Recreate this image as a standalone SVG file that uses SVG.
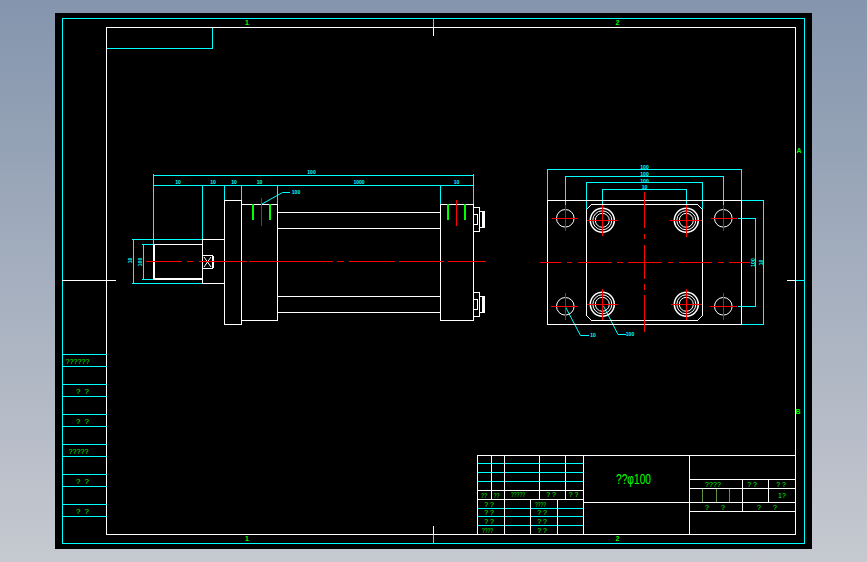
<svg xmlns="http://www.w3.org/2000/svg" width="867" height="562" viewBox="0 0 867 562">
<style>
line,polyline,circle{fill:none;stroke-width:1}
.c line,.c polyline,.c rect{stroke:#0ff;fill:none}
.w line,.w rect,.w path,.w circle,.w polyline{stroke:#fff;fill:none}
.r line{stroke:#f00}
.g line{stroke:#0f0;stroke-width:2}
.ol line{stroke:#5f8f3f}
text{font-family:"Liberation Sans",Arial,sans-serif}
.t{fill:#0f0;font-size:8px;text-anchor:middle}
.s{fill:#0f0;font-size:7px;text-anchor:middle}
.d{fill:#0ff;font-size:5px;font-weight:bold;text-anchor:middle}
.b{shape-rendering:crispEdges}
</style>
<defs><linearGradient id="bg" x1="0" y1="0" x2="0" y2="1"><stop offset="0" stop-color="#8495ad"/><stop offset="1" stop-color="#c6c9d0"/></linearGradient></defs>
<rect width="867" height="562" fill="url(#bg)"/>
<rect x="55" y="13" width="757" height="536" fill="#000"/>

<g id="frame" class="b">
<g class="c">
<rect x="62.5" y="18.5" width="742" height="525"/>
<line x1="433.5" y1="18" x2="433.5" y2="27"/>
<line x1="433.5" y1="534" x2="433.5" y2="544"/>
<line x1="795" y1="280.5" x2="804" y2="280.5"/>
<polyline points="107,48.5 212.5,48.5 212.5,27"/>
</g>
<g class="w">
<rect x="106.5" y="27.5" width="689" height="507"/>
<line x1="433.5" y1="27" x2="433.5" y2="36"/>
<line x1="433.5" y1="526" x2="433.5" y2="534"/>
<line x1="62" y1="280.5" x2="116" y2="280.5"/>
<line x1="787" y1="280.5" x2="795" y2="280.5"/>
</g>
<text class="s" x="247" y="25" font-weight="bold">1</text>
<text class="s" x="617.5" y="25" font-weight="bold">2</text>
<text class="s" x="247" y="541" font-weight="bold">1</text>
<text class="s" x="617.5" y="541" font-weight="bold">2</text>
<text class="s" x="799" y="153" font-weight="bold">A</text>
<text class="s" x="798" y="414" font-weight="bold">B</text>
</g>

<g id="side-column" class="b">
<g class="c">
<line x1="62" y1="354.5" x2="107" y2="354.5"/><line x1="62" y1="366.5" x2="107" y2="366.5"/>
<line x1="62" y1="384.5" x2="107" y2="384.5"/><line x1="62" y1="396.5" x2="107" y2="396.5"/>
<line x1="62" y1="414.5" x2="107" y2="414.5"/><line x1="62" y1="426.5" x2="107" y2="426.5"/>
<line x1="62" y1="444.5" x2="107" y2="444.5"/><line x1="62" y1="456.5" x2="107" y2="456.5"/>
<line x1="62" y1="474.5" x2="107" y2="474.5"/><line x1="62" y1="486.5" x2="107" y2="486.5"/>
<line x1="62" y1="504.5" x2="107" y2="504.5"/><line x1="62" y1="516.5" x2="107" y2="516.5"/>
</g>
<text class="t" x="77.5" y="364" textLength="24" lengthAdjust="spacingAndGlyphs">??????</text>
<text class="t" x="82.5" y="394" textLength="13" lengthAdjust="spacing">? ?</text>
<text class="t" x="82.5" y="424" textLength="13" lengthAdjust="spacing">? ?</text>
<text class="t" x="78.5" y="454" textLength="20" lengthAdjust="spacingAndGlyphs">?????</text>
<text class="t" x="82.5" y="484" textLength="13" lengthAdjust="spacing">? ?</text>
<text class="t" x="82.5" y="514" textLength="13" lengthAdjust="spacing">? ?</text>
</g>

<g id="title-block" class="b">
<g class="c">
<line x1="478" y1="463.5" x2="583" y2="463.5"/><line x1="478" y1="472.5" x2="583" y2="472.5"/><line x1="478" y1="481.5" x2="583" y2="481.5"/>
<line x1="478" y1="508.5" x2="583" y2="508.5"/><line x1="478" y1="516.5" x2="583" y2="516.5"/><line x1="478" y1="525.5" x2="583" y2="525.5"/>
</g>
<g class="w">
<line x1="477.5" y1="455.5" x2="795" y2="455.5"/>
<line x1="477.5" y1="455" x2="477.5" y2="534"/>
<line x1="491.5" y1="455" x2="491.5" y2="499"/>
<line x1="504.5" y1="455" x2="504.5" y2="534"/>
<line x1="539.5" y1="455" x2="539.5" y2="499"/>
<line x1="565.5" y1="455" x2="565.5" y2="499"/>
<line x1="583.5" y1="455" x2="583.5" y2="534"/>
<line x1="530.5" y1="499" x2="530.5" y2="534"/>
<line x1="557.5" y1="499" x2="557.5" y2="534"/>
<line x1="478" y1="490.5" x2="583" y2="490.5"/>
<line x1="478" y1="499.5" x2="583" y2="499.5"/>
<line x1="583" y1="502.5" x2="795" y2="502.5"/>
<line x1="689.5" y1="455" x2="689.5" y2="534"/>
<line x1="689" y1="479.5" x2="795" y2="479.5"/>
<line x1="689" y1="488.5" x2="795" y2="488.5"/>
<line x1="689" y1="511.5" x2="795" y2="511.5"/>
<line x1="742.5" y1="479" x2="742.5" y2="511"/>
<line x1="768.5" y1="479" x2="768.5" y2="502"/>
</g>
<g class="ol">
<line x1="702.5" y1="489" x2="702.5" y2="502"/><line x1="716.5" y1="489" x2="716.5" y2="502"/><line x1="729.5" y1="489" x2="729.5" y2="502"/>
</g>
<text class="s" x="484" y="498" textLength="6" lengthAdjust="spacingAndGlyphs">??</text>
<text class="s" x="496.5" y="498" textLength="6" lengthAdjust="spacingAndGlyphs">??</text>
<text class="s" x="518" y="497" textLength="14" lengthAdjust="spacingAndGlyphs">?????</text>
<text class="s" x="551" y="497">? ?</text>
<text class="s" x="573.5" y="497">? ?</text>
<text class="s" x="489" y="506.5">? ?</text>
<text class="s" x="489" y="515">? ?</text>
<text class="s" x="489" y="524">? ?</text>
<text class="s" x="487.5" y="533" textLength="11" lengthAdjust="spacingAndGlyphs">????</text>
<text class="s" x="540.5" y="506.5" textLength="11" lengthAdjust="spacingAndGlyphs">????</text>
<text class="s" x="542" y="515">? ?</text>
<text class="s" x="542" y="524">? ?</text>
<text class="s" x="542" y="533">? ?</text>
<text class="s" x="713" y="487" textLength="16" lengthAdjust="spacing">????</text>
<text class="s" x="752" y="487">? ?</text>
<text class="s" x="781" y="487">? ?</text>
<text class="s" x="782" y="498">1?</text>
<text class="s" x="707" y="510">?</text>
<text class="s" x="723" y="510">?</text>
<text class="s" x="759" y="510">?</text>
<text class="s" x="775" y="510">?</text>
<text class="t" x="633.5" y="484" style="font-size:14px" textLength="35" lengthAdjust="spacingAndGlyphs">??φ100</text>
</g>

<g id="front-view">
<g class="b c">
<line x1="153.5" y1="175.5" x2="473.5" y2="175.5"/>
<line x1="153.5" y1="185.5" x2="473.5" y2="185.5"/>
<line x1="153.5" y1="174" x2="153.5" y2="244"/>
<line x1="202.5" y1="185" x2="202.5" y2="239"/>
<line x1="224.5" y1="185" x2="224.5" y2="200"/>
<line x1="241.5" y1="185" x2="241.5" y2="204"/>
<line x1="277.5" y1="185" x2="277.5" y2="204"/>
<line x1="440.5" y1="185" x2="440.5" y2="204"/>
<line x1="473.5" y1="174" x2="473.5" y2="204"/>
<line x1="132" y1="239.5" x2="202" y2="239.5"/>
<line x1="132" y1="283.5" x2="202" y2="283.5"/>
<line x1="133.5" y1="239" x2="133.5" y2="284"/>
<line x1="142" y1="244.5" x2="153" y2="244.5"/>
<line x1="142" y1="279.5" x2="153" y2="279.5"/>
<line x1="143.5" y1="244" x2="143.5" y2="280"/>
</g>
<polyline points="262,204 282.5,192.5 290,192.5" fill="none" stroke="#0ff"/>
<g class="w b">
<rect x="153.5" y="244.5" width="49" height="35"/>
<line x1="154.5" y1="245" x2="154.5" y2="279"/>
<line x1="154" y1="278.5" x2="202" y2="278.5"/>
<line x1="202" y1="239.5" x2="224" y2="239.5"/>
<line x1="202" y1="283.5" x2="224" y2="283.5"/>
<line x1="202.5" y1="239" x2="202.5" y2="284"/>
<rect x="202.5" y="255.5" width="10" height="13"/>
<line x1="212.5" y1="256" x2="212.5" y2="268" style="stroke-width:2"/>
<rect x="224.5" y="200.5" width="17" height="124"/>
<rect x="241.5" y="204.5" width="36" height="116"/>
<rect x="440.5" y="204.5" width="33" height="116"/>
<line x1="277" y1="212.5" x2="440" y2="212.5"/>
<line x1="277" y1="228.5" x2="440" y2="228.5"/>
<line x1="277" y1="296.5" x2="440" y2="296.5"/>
<line x1="277" y1="312.5" x2="440" y2="312.5"/>
<path d="M474 207.5H479.5V231.5H474M474 214.5H477V224.5H474M479.5 211.5H484.5V227.5H479.5M482.5 212V227M483.5 212V227"/>
<path d="M474 292.5H479.5V316.5H474M474 299.5H477V309.5H474M479.5 296.5H484.5V312.5H479.5M482.5 297V312M483.5 297V312"/>
</g>
<g class="w"><line x1="204" y1="257" x2="211" y2="267"/><line x1="211" y1="257" x2="204" y2="267"/></g>
<g class="g b">
<line x1="253" y1="204" x2="253" y2="220"/><line x1="270" y1="204" x2="270" y2="220"/>
<line x1="448" y1="204" x2="448" y2="220"/><line x1="465" y1="204" x2="465" y2="220"/>
</g>
<g class="r b">
<line x1="261.5" y1="198" x2="261.5" y2="226"/><line x1="456.5" y1="200" x2="456.5" y2="226"/>
<line x1="146" y1="261.5" x2="182" y2="261.5"/><line x1="187" y1="261.5" x2="193" y2="261.5"/>
<line x1="199" y1="261.5" x2="247" y2="261.5"/><line x1="249" y1="261.5" x2="333" y2="261.5"/>
<line x1="337" y1="261.5" x2="344" y2="261.5"/><line x1="349" y1="261.5" x2="395" y2="261.5"/>
<line x1="399" y1="261.5" x2="444" y2="261.5"/><line x1="448" y1="261.5" x2="486" y2="261.5"/>
</g>
<text class="d" x="311.5" y="174">100</text>
<text class="d" x="178" y="184">10</text>
<text class="d" x="213" y="184">10</text>
<text class="d" x="234" y="184">10</text>
<text class="d" x="259.5" y="184">10</text>
<text class="d" x="359" y="184">1000</text>
<text class="d" x="456.5" y="184">10</text>
<text class="d" x="296" y="194">100</text>
<text class="d" transform="translate(132,260.5) rotate(-90)">10</text>
<text class="d" transform="translate(142,262) rotate(-90)">100</text>
</g>

<g id="end-view">
<g class="b c">
<polyline points="547.5,200 547.5,169.5 741.5,169.5 741.5,200"/>
<polyline points="565.5,205 565.5,176.5 723.5,176.5 723.5,205"/>
<polyline points="586.5,210 586.5,182.5 702.5,182.5 702.5,210"/>
<polyline points="602.5,210 602.5,189.5 686.5,189.5 686.5,210"/>
<polyline points="741,200.5 763.5,200.5 763.5,324.5 741,324.5"/>
<polyline points="738,218.5 755.5,218.5 755.5,306.5 738,306.5"/>
</g>
<polyline points="565.5,307 580.5,335.5 589,335.5" fill="none" stroke="#0ff"/>
<polyline points="603.5,306 618,334.5 626,334.5" fill="none" stroke="#0ff"/>
<g class="w">
<rect class="b" x="547.5" y="200.5" width="194" height="124"/>
<path class="b" d="M591.5 204.5H697.5L702.5 209.5V315.5L697.5 320.5H591.5L586.5 315.5V209.5Z"/>
<circle cx="565.3" cy="218.3" r="8.8"/><circle cx="723.3" cy="218.3" r="8.8"/>
<circle cx="565.3" cy="306.3" r="8.8"/><circle cx="723.3" cy="306.3" r="8.8"/>
<circle cx="602.3" cy="220.3" r="12" style="stroke-width:1.5"/><circle cx="602.3" cy="220.3" r="9.5"/><circle cx="602.3" cy="220.3" r="7"/>
<circle cx="686.3" cy="220.3" r="12" style="stroke-width:1.5"/><circle cx="686.3" cy="220.3" r="9.5"/><circle cx="686.3" cy="220.3" r="7"/>
<circle cx="602.3" cy="304.3" r="12" style="stroke-width:1.5"/><circle cx="602.3" cy="304.3" r="9.5"/><circle cx="602.3" cy="304.3" r="7"/>
<circle cx="686.3" cy="304.3" r="12" style="stroke-width:1.5"/><circle cx="686.3" cy="304.3" r="9.5"/><circle cx="686.3" cy="304.3" r="7"/>
</g>
<g class="r b">
<line x1="552" y1="218.5" x2="578" y2="218.5"/><line x1="565.5" y1="205" x2="565.5" y2="231"/>
<line x1="711" y1="218.5" x2="737" y2="218.5"/><line x1="723.5" y1="205" x2="723.5" y2="231"/>
<line x1="551" y1="306.5" x2="578" y2="306.5"/><line x1="565.5" y1="293" x2="565.5" y2="320"/>
<line x1="710" y1="306.5" x2="737" y2="306.5"/><line x1="723.5" y1="293" x2="723.5" y2="320"/>
<line x1="587" y1="220.5" x2="618" y2="220.5"/><line x1="602.5" y1="205" x2="602.5" y2="236"/>
<line x1="670" y1="220.5" x2="702" y2="220.5"/><line x1="686.5" y1="205" x2="686.5" y2="237"/>
<line x1="587" y1="304.5" x2="618" y2="304.5"/><line x1="602.5" y1="289" x2="602.5" y2="320"/>
<line x1="671" y1="304.5" x2="702" y2="304.5"/><line x1="686.5" y1="289" x2="686.5" y2="320"/>
<line x1="644.5" y1="192" x2="644.5" y2="228"/><line x1="644.5" y1="234" x2="644.5" y2="239"/>
<line x1="644.5" y1="245" x2="644.5" y2="279"/><line x1="644.5" y1="284" x2="644.5" y2="290"/>
<line x1="644.5" y1="295" x2="644.5" y2="332"/>
<line x1="540" y1="262.5" x2="561" y2="262.5"/><line x1="567" y1="262.5" x2="572" y2="262.5"/>
<line x1="578" y1="262.5" x2="612" y2="262.5"/><line x1="617" y1="262.5" x2="623" y2="262.5"/>
<line x1="628" y1="262.5" x2="662" y2="262.5"/><line x1="668" y1="262.5" x2="673" y2="262.5"/>
<line x1="679" y1="262.5" x2="712" y2="262.5"/><line x1="718" y1="262.5" x2="724" y2="262.5"/>
<line x1="729" y1="262.5" x2="750" y2="262.5"/>
</g>
<text class="d" x="644.5" y="169">100</text>
<text class="d" x="644.5" y="175.5">100</text>
<text class="d" x="644.5" y="182.5">100</text>
<text class="d" x="644.5" y="188.5">10</text>
<text class="d" transform="translate(755,262.5) rotate(-90)">100</text>
<text class="d" transform="translate(762.5,262.5) rotate(-90)">10</text>
<text class="d" x="593" y="337">10</text>
<text class="d" x="630" y="336">100</text>
</g>
</svg>
